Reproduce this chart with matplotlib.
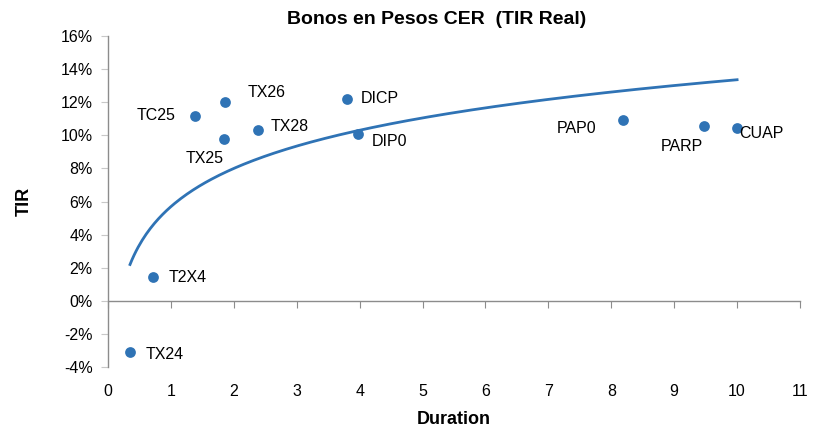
import numpy as np
import matplotlib
matplotlib.use("Agg")
import matplotlib.pyplot as plt
from matplotlib.ticker import FuncFormatter

plt.rcParams['font.family'] = ['Liberation Sans', 'DejaVu Sans']

bonds = ["TX24", "T2X4", "TC25", "TX26", "TX25", "TX28", "DICP", "DIP0", "PAP0", "PARP", "CUAP"]
duration = [0.35, 0.72, 1.38, 1.86, 1.84, 2.38, 3.80, 3.97, 8.19, 9.48, 10.00]
tir = [-3.1, 1.43, 11.19, 12.03, 9.80, 10.34, 12.20, 10.10, 10.94, 10.58, 10.46]
# label offsets (points) and alignment
offsets = [(11, -2), (11, 0), (-14, 0), (16, 6.5), (-14, -14), (9, 2), (10, 0), (10, -6), (-19, -6), (-16, -15), (1.5, -4)]
aligns = ["left", "left", "right", "left", "center", "left", "left", "left", "right", "center", "left"]

# logarithmic trendline: y = a*ln(x) + b
trend_a = 3.33
trend_b = 5.69

xticks = list(range(0, 12))
yticks = list(range(-4, 18, 2))

blue = "#2F73B5"
gray = "#8C8C8C"

fig = plt.figure(figsize=(8.14, 4.29), dpi=100)
ax = fig.add_axes([108/814, 1-367/429, (800-108)/814, (367-36)/429])

x_arr = np.array(duration)
y_arr = np.array(tir)
xs = np.linspace(x_arr.min(), x_arr.max(), 300)
ax.plot(xs, trend_a*np.log(xs) + trend_b, color=blue, lw=2.0, zorder=2)
ax.scatter(x_arr, y_arr, s=60, color=blue, zorder=3, linewidths=0)

for name, x, y, off, ha in zip(bonds, duration, tir, offsets, aligns):
    ax.annotate(name, (x, y), xytext=off, textcoords="offset points",
                ha=ha, va="center", fontsize=11.5, color="black", zorder=4)

ax.set_xlim(0, 11)
ax.set_ylim(-4, 16)
ax.set_xticks(xticks)
ax.set_yticks(yticks)
ax.yaxis.set_major_formatter(FuncFormatter(lambda v, p: f"{v:.0f}%"))

for s in ["top", "right", "bottom"]:
    ax.spines[s].set_visible(False)
ax.spines["left"].set_color(gray)
ax.spines["left"].set_linewidth(1.0)
ax.tick_params(axis="y", direction="out", length=5, color="#C8C8C8", labelsize=11.5, pad=6)
ax.tick_params(axis="x", length=0, labelsize=11.5, pad=12)

sec = ax.secondary_xaxis(0.2)
sec.set_xticks(xticks)
sec.tick_params(axis="x", direction="out", length=5, color=gray, labelbottom=False, labeltop=False)
sec.spines["bottom"].set_color(gray)
sec.spines["bottom"].set_linewidth(1.0)

fig.text(437/814, 1-20/429, "Bonos en Pesos CER  (TIR Real)", fontsize=14, fontweight="bold",
         ha="center", va="center")
ax.set_xlabel("Duration", fontsize=13, fontweight="bold", labelpad=9)
ax.set_ylabel("TIR", fontsize=13, fontweight="bold", labelpad=20)

fig.savefig("out.png", dpi=100)
